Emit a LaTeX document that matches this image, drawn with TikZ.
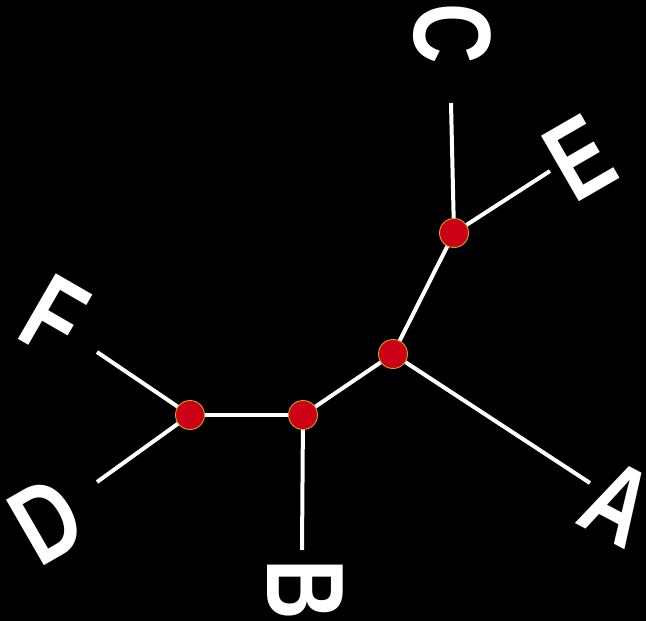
\documentclass[tikz,border=0pt]{standalone}
\usepackage{fontspec}
\setmainfont{Liberation Sans}
\definecolor{forkred}{RGB}{204,0,22}
\definecolor{forkrim}{RGB}{205,165,20}
\tikzset{
  fork/.style={circle, fill=forkred, draw=forkrim, line width=0.9pt, minimum size=29pt, inner sep=0pt},
  twig/.style={white, line width=4pt},
  taxon/.style={text=white, inner sep=0pt, xscale=0.76, font=\fontsize{110}{110}\selectfont\bfseries},
}
\begin{document}
\begin{tikzpicture}[x=1pt, y=-1pt]
    \fill[black] (0,0) rectangle (646,621);
    \clip (0,0) rectangle (646,621);

    % inner forks
    \node[fork] (n1) at (454,233) {};
    \node[fork] (n2) at (393,354) {};
    \node[fork] (n3) at (303,415) {};
    \node[fork] (n4) at (190,415) {};

    % free ends of the leaf twigs
    \coordinate (tC) at (451,103);
    \coordinate (tE) at (550,171);
    \coordinate (tA) at (590,483);
    \coordinate (tB) at (302,550);
    \coordinate (tD) at (97,482);
    \coordinate (tF) at (97,352);

    \draw[twig] (n1) -- (n2);
    \draw[twig] (n2) -- (n3);
    \draw[twig] (n3) -- (n4);
    \draw[twig] (n1) -- (tC);
    \draw[twig] (n1) -- (tE);
    \draw[twig] (n2) -- (tA);
    \draw[twig] (n3) -- (tB);
    \draw[twig] (n4) -- (tD);
    \draw[twig] (n4) -- (tF);

    % taxon labels
    \node[rotate=-90, taxon] (lC) at (452,34) {C};
    \node[rotate=30, taxon] (lE) at (580,158) {E};
    \node[rotate=-28, taxon] (lA) at (618,503) {A};
    \node[rotate=-90, taxon] (lB) at (305,590) {B};
    \node[rotate=30, taxon] (lD) at (47,521) {D};
    \node[rotate=-30, taxon] (lF) at (55,316) {F};
\end{tikzpicture}
\end{document}
